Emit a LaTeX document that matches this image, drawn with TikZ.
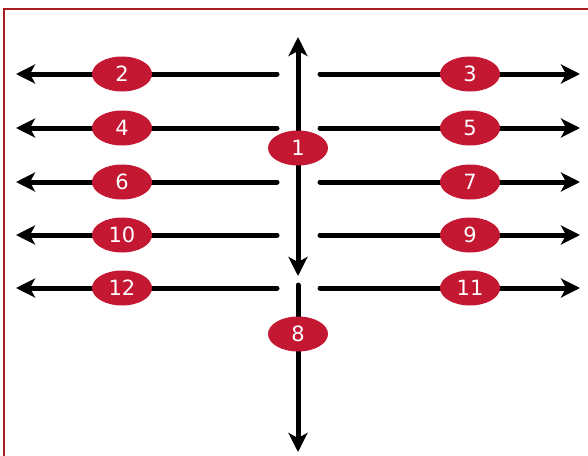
\documentclass[tikz,border=0pt]{standalone}
\usepackage{fontspec}
\usetikzlibrary{arrows.meta,shapes.geometric}
\newfontfamily\badgefont{DejaVu Sans}
\definecolor{badge}{HTML}{C41732}
\definecolor{frame}{HTML}{A81E22}
\tikzset{
  badge/.style={ellipse,fill=badge,text=white,minimum width=60pt,minimum height=35pt,inner sep=0pt,font=\badgefont\fontsize{21}{24}\selectfont},
  flow/.style={line width=5pt,line cap=round,-{Stealth[length=19pt,width=19pt,inset=5pt]}},
  flowboth/.style={line width=5pt,{Stealth[length=19pt,width=19pt,inset=5pt]}-{Stealth[length=19pt,width=19pt,inset=5pt]}}
}
\begin{document}
\begin{tikzpicture}[x=1pt,y=-1pt]
\clip (0,0) rectangle (588,455);
\useasboundingbox (0,0) rectangle (588,455);
\fill[white] (0,0) rectangle (588,455);
\draw[frame,line width=2pt] (4,9) rectangle (620,480);
% coordinates
\foreach \n/\y in {a/74,b/128,c/182,d/235,e/288}{
  \coordinate (ls\n) at (277,\y);
  \coordinate (le\n) at (16,\y);
  \coordinate (rs\n) at (320,\y);
  \coordinate (re\n) at (580,\y);
}
\coordinate (vt) at (298,37);
\coordinate (vb) at (298,276);
\coordinate (ws) at (298,285);
\coordinate (we) at (298,452);
% connectors
\foreach \n in {a,b,c,d,e}{
  \draw[flow] (ls\n) -- (le\n);
  \draw[flow] (rs\n) -- (re\n);
}
\draw[flowboth] (vt) -- (vb);
\draw[flow] (ws) -- (we);
% badges
\node[badge] (n2) at (122,74) {2};
\node[badge] (n3) at (470,74) {3};
\node[badge] (n4) at (122,128) {4};
\node[badge] (n5) at (470,128) {5};
\node[badge] (n6) at (122,182) {6};
\node[badge] (n7) at (470,182) {7};
\node[badge] (n10) at (122,235) {10};
\node[badge] (n9) at (470,235) {9};
\node[badge] (n12) at (122,288) {12};
\node[badge] (n11) at (470,288) {11};
\node[badge] (n1) at (298,148) {1};
\node[badge] (n8) at (298,334) {8};
\end{tikzpicture}
\end{document}
